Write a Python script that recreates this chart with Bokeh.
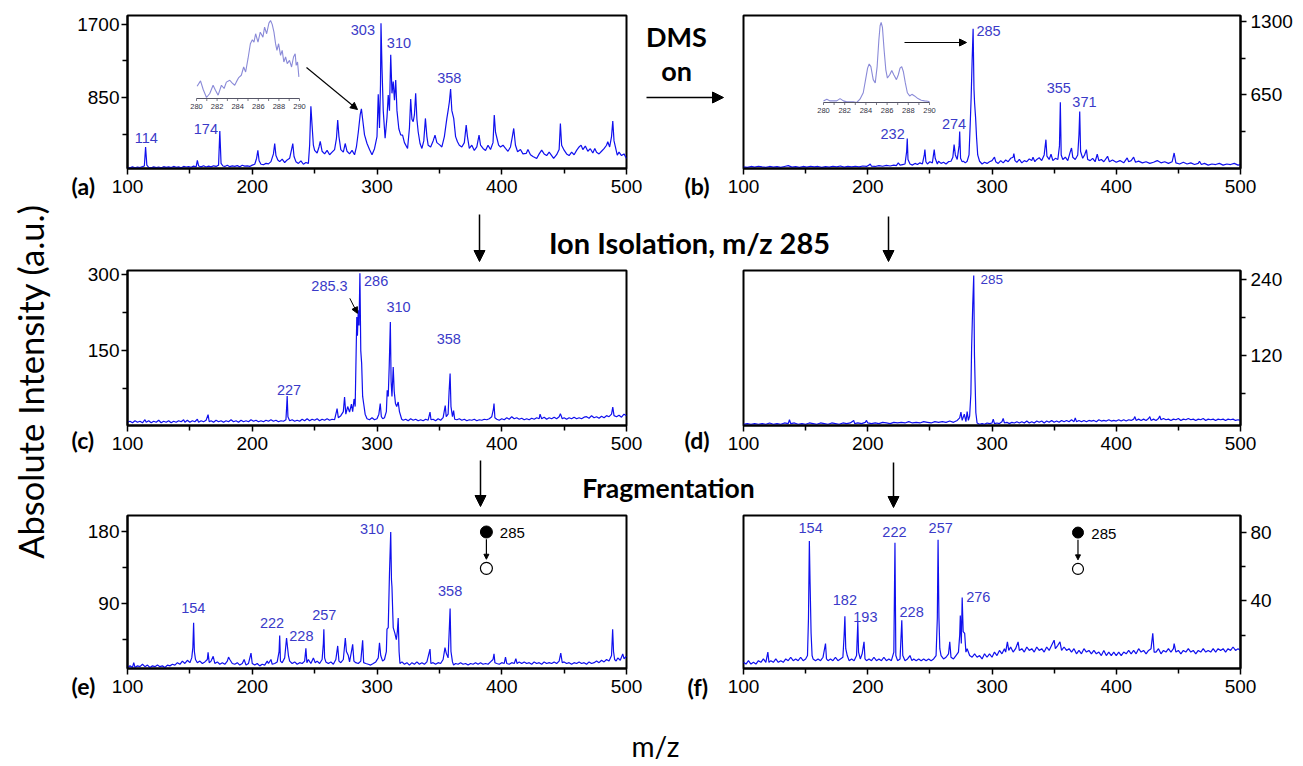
import math
from bokeh.plotting import figure
from bokeh.models import Range1d, FixedTicker, Label, Arrow, NormalHead, Title
from bokeh.layouts import row, column
from bokeh.embed import file_html
from bokeh.resources import INLINE
from bokeh.core.properties import value

# ---------------- data ----------------
x_ticks = [100, 200, 300, 400, 500]
x_minor = [150, 250, 350, 450]

# (a) DMS off, full scan
mz_a = [100,102,104,106,108,110,112,113.5,114.5,115.5,
        117,119,121,123,125,127,129,131,133,135,
        137,139,141,143,145,147,149,151,153,155,
        156,157,159,161,163,165,167,169,171,173,
        174,175,176.5,178,180,182,184,186,188,190,
        192,194,196,198,200,202,203.5,204.5,205.5,207,
        209,211,213,215,217,218,219,220.5,222,224,
        226,228,230,231.5,232.5,233.5,235,237,239,241,
        243,245,246,247,248,249,250,252,253.5,254.5,
        256,258,260,262,264,266,267.5,268.5,269.5,271,
        273,274.5,276,278,280,282,283.5,285,286.5,287.5,
        288.5,290,292,294,296,298,300,301,302,302.8,
        303.2,304,305,306.5,308,309,310,311,312,313,
        314,315,316,317.5,319,320.5,322,324.5,326,327,
        328,329,330,331,332,333,334.5,336,337.5,338.8,
        340,341,343,345,346.5,348,350.5,352,354,356,
        357,358,359,360,361.5,363,364.5,366,368,370,
        371.5,372.5,374,376,378,380,381.8,383,385,387,
        389,391,393,394,395,397.5,399,401,403,405,
        407,408.5,409.6,411,412.7,415,417,419.6,421,423,
        425,428,430,432,434,436,438,441.6,444,446,
        447,448,450,452,454,456,458,460,462,463.6,
        465,467,469,471,473,474.6,476,478,480,482,
        484,485,486.5,488,489,490,492.6,494,496,498,
        500]
int_a = [45,38,50,40,48,42,52,60,280,70,
         45,40,50,42,48,40,52,44,50,42,
         55,45,50,40,55,48,52,45,58,50,
         125,60,50,62,48,58,50,62,55,70,
         465,90,60,55,68,52,62,55,65,50,
         68,58,62,55,70,80,150,240,120,80,
         75,90,85,110,200,320,180,130,110,140,
         100,130,150,250,320,170,110,90,120,80,
         100,90,300,750,520,300,240,210,280,345,
         230,200,240,190,220,250,380,590,400,250,
         220,320,230,200,240,190,280,450,650,720,
         600,420,320,250,190,260,400,890,500,1000,
         1710,1200,700,380,620,880,700,1345,900,1035,
         820,1055,700,490,420,417,330,263,500,834,
         600,572,650,900,600,456,320,263,350,610,
         400,301,280,350,417,330,301,280,400,610,
         700,800,950,700,610,400,340,300,280,330,
         533,400,263,300,240,280,417,300,263,240,
         300,250,330,649,450,301,280,300,263,230,
         280,400,494,300,224,250,200,205,250,190,
         170,147,200,243,200,180,220,147,190,250,
         552,300,243,200,180,220,190,240,280,301,
         250,290,230,260,210,263,220,200,230,260,
         300,340,280,400,580,350,185,220,180,200,
         147]

# (b) DMS on, full scan
mz_b = [100,103,106,109,112,115,118,121,124,127,
        130,133,136,139,142,145,148,151,154,157,
        160,163,166,169,172,175,178,181,184,187,
        190,193,196,199,201,202,203,206,209,212,
        215,218,221,223,224.6,226,228,230,231.3,231.8,
        232.4,234,236,238,240,242,244,245.5,246,246.8,
        248,250,252,253.5,254.3,256,257,259,261,263,
        265,267,268.5,269.5,270.5,272,273.5,274,274.7,276,
        277,278.5,280,281.5,282.5,283.2,284,284.8,285.5,286,
        286.8,287.6,288.5,290,292,294,296,298,300,302,
        303,305,307,309,311,313,315,317,317.6,318.5,
        320,322,324,326,328,330,332,333,334.5,336,
        338,340,342,343.4,344.2,346,347.5,349,351,353,
        354.3,355,355.7,357,359,361,362.8,364,365,367,
        369,370,370.6,371.3,373,374.5,376,377,379,381,
        383,384.7,386,388,390,393,394.5,397,400,403,
        406,408.8,410,412,414,415.5,418,421,424,427,
        430,433,436,439,442,445,446.6,448,451,454,
        457,460,463,466,467,468.5,471,474,477,480,
        483,486,489,492,495,498,500]
int_b = [15,10,18,12,20,14,10,18,12,16,
         10,18,25,12,16,10,18,12,20,14,
         18,10,16,12,20,15,22,12,18,14,
         20,15,22,18,30,40,20,18,25,20,
         28,22,30,25,50,30,35,40,150,265,
         80,40,30,45,35,50,40,120,167,60,
         40,60,50,167,90,40,64,45,55,40,
         60,64,100,211,120,80,200,328,90,60,
         64,50,64,120,400,621,950,1236,700,577,
         450,269,120,64,40,55,45,60,70,100,
         60,45,70,50,75,60,90,100,132,70,
         55,80,50,70,60,85,70,100,60,80,
         95,70,120,255,110,80,126,70,90,80,
         200,585,120,80,100,70,140,181,100,80,
         120,300,503,150,90,120,167,80,70,90,
         60,126,70,80,60,108,60,75,55,70,
         50,94,60,70,100,55,65,50,60,45,
         55,70,50,60,45,60,137,50,40,55,
         40,50,35,45,64,35,45,30,40,35,
         45,30,40,35,45,30,35]

# (c) DMS off, isolation of m/z 285
mz_c = [100,102,104,106,108,110,112,114,115,117,
        119,121,123,125,127,129,131,133,135,137,
        139,141,143,145,146,148,150,152,154,156,
        157,159,161,163,164.6,165.5,167,169,171,173,
        175,177,179,181,183,185,187,189,191,193,
        195,197,199,201,203,205,207,209,211,213,
        215,217,219,221,223,225,227,227.6,228,228.6,
        230,232,234,236,238,240,242,244,246,248,
        250,252,254,256,258,260,262,264,266,267.5,
        268,269,271,273,274,275,276.5,278,279.5,280.5,
        281.6,282.5,283.3,283.8,284.3,285,285.6,286.3,287,287.7,
        288.5,289.3,290.5,292,294,296,298,300,301.5,302.6,
        303.5,304.6,306,307.5,308.2,309,309.8,310.7,311.3,312,
        313,313.8,314.8,315.8,317,318,319.8,321,323,325,
        327,329,331,333,335,337,339,341,342.5,343.3,
        345,347,349,351,353,354.7,355.5,357,357.8,358.6,
        359.3,360.5,361.4,362.3,364,366,368,370,372,374,
        376,378,380,382,384,386,388,390,392,393.3,
        393.8,394.5,396,398,400,402,404,406,408,410,
        412,414,416,418,420,422,424,426,428,430,
        430.7,432,434,436,438,440,442,444,446,447,
        448.5,450,452,454,456,458,460,462,464,466,
        468,470,472,474,476,478,480,482,484,486,
        488,489,490,492,494,496,498,500]
int_c = [9,11,8,12,9,11,8,14,9,12,
         8,11,9,13,8,11,9,12,8,11,
         9,12,10,14,9,13,9,12,10,15,
         9,12,10,13,24,10,12,9,13,10,
         12,9,12,10,14,10,12,9,13,10,
         12,10,14,11,13,10,12,10,13,11,
         14,11,13,10,12,11,14,40,61,20,
         12,14,11,13,11,15,12,16,12,15,
         13,16,12,15,13,16,13,15,14,30,
         36,18,22,30,59,25,40,29,45,30,
         55,40,150,217,180,230,200,303,150,125,
         60,46,25,16,14,18,14,16,25,46,
         20,16,18,30,72,60,120,207,90,60,
         118,70,46,40,49,30,15,13,15,12,
         16,13,15,12,14,12,15,13,29,14,
         15,12,16,13,18,42,20,25,70,105,
         40,20,32,15,14,16,13,15,12,14,
         13,15,12,14,13,15,14,16,20,35,
         46,18,15,13,16,14,18,15,20,16,
         18,15,17,14,16,14,17,15,18,16,
         25,16,19,15,18,16,19,16,20,26,
         16,18,15,18,16,19,16,18,16,19,
         20,17,22,18,20,17,21,18,22,20,
         25,39,22,20,23,19,25,22]

# (d) DMS on, isolation of m/z 285
mz_d = [100,103,106,109,112,115,118,121,124,127,
        130,133,136,137,138,141,144,147,150,153,
        156,159,162,165,168,171,174,177,180,183,
        186,188.7,189.5,192,195,198,199,200,203,206,
        209,212,215,218,221,224,227,230,233,236,
        239,242,245,248,251,254,257,260,263,266,
        269,272,274,275,276,277.7,279,280,281,282,
        283,283.6,284.5,285.3,285.9,286.4,287,288,290,292,
        294,296,298,300,301,302,304,306,308,309,
        310,312,314,316,318,320,322,324,326,328,
        330,332,334,336,338,340,342,344,346,348,
        350,352,354,356,358,360,362,364,366,367,
        368,370,372,374,376,378,380,382,384,386,
        388,390,392,394,396,398,400,402,404,406,
        408,410,412,414,415,416,418,420,422,424,
        426,427,428,430,432,434,435,436,438,440,
        442,444,446,448,450,452,454,456,458,460,
        462,464,466,468,470,472,474,476,478,480,
        482,484,486,488,490,492,494,496,498,500]
int_d = [12,13,12,13,12,13,12,14,12,13,
         12,14,13,19,13,14,12,13,12,14,
         13,12,14,13,12,14,13,12,14,13,
         14,18,13,14,13,15,18,14,13,14,
         13,15,14,13,15,14,15,14,16,14,
         15,14,16,15,14,16,15,16,15,17,
         15,18,22,31,18,28,16,32,18,25,
         60,133,200,246,120,78,30,14,12,13,
         12,14,13,14,20,13,14,13,16,21,
         14,15,13,15,14,16,14,16,14,17,
         14,16,14,17,15,17,14,17,15,18,
         15,17,15,18,16,18,16,19,16,22,
         16,18,16,18,16,18,17,18,16,19,
         17,18,17,19,17,18,17,19,17,19,
         17,19,18,20,24,18,20,18,20,18,
         21,24,18,20,18,21,25,19,21,19,
         20,18,20,19,21,18,20,19,21,19,
         20,18,20,19,21,18,20,19,20,18,
         20,19,20,18,20,19,20,18,19,18]

# (e) DMS off, fragmentation of m/z 285
mz_e = [100,102,104,105,106,108,110,112,114,116,
        118,120,122,124,126,128,130,132,134,136,
        138,140,142,144,146,148,150,151.5,152.4,153,
        153.6,154.5,156,158,160,162,164,164.6,165.5,167,
        168.7,170,172,174,176,178,180,181,182,184,
        186,188,190,192,193.5,195,197,199,200,202,
        204,206,208,210,212,213,215,216,218,220,
        221.5,222,222.6,224,226,227.5,228.3,229,230,232,
        234,236,238,240,242,243,243.8,245,247,249,
        250.5,252,254,256,257,257.4,258,259,261,263,
        265,267,268.5,269.5,271,273,274.6,275.5,277,278,
        279.5,280.5,281.5,283,285,287,288.5,289.3,291,293,
        294.9,297,299,301,302,303,304.5,306,307.5,308,
        309,310,311,311.6,312,312.6,313,314.3,315.5,316.3,
        317,317.7,318.4,320,322,324,326,328,330,332,
        334,336,338,340,342.5,343.2,345,347,349,351,
        353,354.5,355.5,357,358,358.6,359.3,360.5,361.4,363,
        365,367,369,371,373,375,377,379,381,383,
        385,387,389,391,393,393.8,394.5,396,398,400,
        402,403,404,406,408,410,411.3,412.3,414,416,
        418,420,422,424,426,428,430,432,434,436,
        438,440,442,444,446,447.3,448.5,450,452,454,
        456,458,460,462,464,466,468,470,472,474,
        476,478,480,482,484,486,488,488.9,489.6,490.5,
        491.7,493,495,497,498,500]
int_e = [10,12,10,16,10,12,11,14,11,13,
         10,12,11,13,11,12,10,13,12,14,
         13,16,14,18,15,19,16,22,35,66,
         30,20,16,18,15,17,20,29,16,18,
         24,15,17,14,16,14,18,23,20,15,
         14,16,13,15,20,13,15,28,15,13,
         15,12,14,13,18,15,20,14,15,17,
         30,50,18,16,22,47,35,25,18,15,
         17,14,16,15,18,34,16,20,15,22,
         16,18,15,20,40,58,22,17,15,17,
         14,20,37,18,16,20,47,30,25,17,
         30,39,18,16,15,18,44,16,15,14,
         13,15,17,22,41,25,18,20,30,58,
         60,128,180,120,111,80,60,53,45,55,
         72,30,15,17,14,16,13,16,14,17,
         14,16,14,17,33,15,16,14,16,15,
         20,35,28,22,60,84,30,17,13,15,
         14,16,14,15,13,15,14,16,14,16,
         14,15,14,17,20,27,16,15,14,16,
         15,23,15,14,16,15,21,15,17,15,
         17,15,16,14,17,15,16,14,17,15,
         16,15,17,15,18,28,16,17,15,16,
         14,16,15,17,15,16,14,17,15,16,
         18,16,19,17,20,18,25,58,30,20,
         18,22,19,27,21,24]

# (f) DMS on, fragmentation of m/z 285
mz_f = [100,102,104,106,108,110,112,114,116,118,
        119.6,120.5,122,124,126,128,130,132,134,136,
        138,140,142,144,146,148,150,151.5,152.3,153,
        153.6,154.4,155.2,156,158,160,162,164,166,166.8,
        168,170,172,174,176,178,180,181,181.6,182.3,
        183.5,185,187,189,191,192,192.6,194,195.5,197,
        197.8,199,201,203,205,207,209,211,213,215,
        217,219,221,221.9,222.6,224,226,227.4,228.2,230,
        232,234,235.5,237,239,241,243,245,247,249,
        251,253,255,256,256.6,257.3,258,259,261,263,
        265,266,267,269,271,273,274,274.5,275.3,276,
        276.8,278,279,280,282,284,286,288,290,292,
        294,296,298,300,302,304,306,308,310,311,
        312.4,313.5,315,317,319,321,322,324,326,328,
        330,332,334,336,338,340,342,344,346,348,
        350,351,353,354.7,356,358,360,362,364,366,
        368,370,372,374,376,378,380,382,384,386,
        388,390,392,394,396,398,400,402,404,406,
        408,410,412,414,416,418,420,422,424,426,
        428,429.4,430.5,432,434,436,438,440,442,444,
        446,446.6,448,450,452,454,456,458,460,462,
        464,466,468,470,472,474,476,478,480,482,
        484,486,488,490,492,494,496,498,500]
int_f = [4,3,5,3,4,3,5,4,6,4,
         10,4,5,4,6,4,5,4,6,5,
         7,5,6,5,7,5,6,8,30,75,
         50,21,8,6,5,6,5,7,15,6,
         5,6,5,7,5,6,7,20,31,12,
         8,5,6,5,8,27.6,10,6,9,16,
         6,5,6,5,7,5,6,5,7,5,
         6,5,10,74,8,5,6,28.6,8,5,
         6,8,5,6,5,6,5,6,5,6,
         5,6,8,30,75.8,30,12,8,6,7,
         9,16,7,6,8,10,20,31.4,15,41.9,
         22,21,10,12,8,7,9,7,8,6,
         9,7,9,7,10,8,11,9,12,10,
         16,11,13,10,12,16,11,12,10,13,
         11,12,10,13,11,12,10,13,11,14,
         17,12,14,16,11,13,11,12,10,12,
         9,11,9,12,10,11,9,11,9,10,
         8,11,8,10,8,10,8,10,8,10,
         9,11,9,11,9,12,10,11,9,11,
         12,21,10,10,12,9,11,10,12,10,
         12,15,10,11,9,11,10,12,10,11,
         9,11,10,12,10,11,10,12,10,12,
         11,12,10,12,11,13,11,12,11]

# insets (m/z 280-290, relative intensity 0-100)
ins_ticks = [280, 281, 282, 283, 284, 285, 286, 287, 288, 289, 290]
ins_tick_labels = ["280", "282", "284", "286", "288", "290"]
ins_a_mz = [280.06,280.39,280.65,280.97,281.29,281.61,281.84,282.1,282.42,282.68,
            282.9,283.23,283.45,283.71,283.87,284.1,284.35,284.58,284.77,285,
            285.23,285.42,285.58,285.74,285.97,286.19,286.45,286.61,286.81,287.03,
            287.19,287.35,287.52,287.68,287.81,287.97,288.16,288.32,288.48,288.65,
            288.81,289.03,289.23,289.42,289.58,289.68,289.81,289.94]
ins_a_val = [15.7,22.6,11.5,1.3,6.4,17,10.6,4.3,17,12.8,
             21,23.4,20,17,21.3,26.8,29.8,40.4,34,51,
             70.2,75.3,72.3,83,72.3,85,78.7,91.5,83,96.6,
             100,95,85,70,61.7,70.2,55.3,61.7,46.8,53.2,
             44.7,48.9,40.4,53.2,57.4,42.5,46.8,27.7]
ins_b_mz = [280,280.31,280.63,280.94,281.25,281.56,281.88,282.19,282.5,282.81,
            283.13,283.44,283.75,283.97,284.16,284.31,284.47,284.69,284.88,285.06,
            285.22,285.34,285.44,285.56,285.72,285.88,286.03,286.25,286.44,286.63,
            286.88,287.06,287.22,287.38,287.53,287.72,287.91,288.13,288.34,288.59,
            288.91,289.22,289.53,289.84,290.0]
ins_b_val = [2.0,4.1,2.0,2.0,2.0,4.9,2.0,0.8,0.8,0.8,
             0,4.1,12.2,28.6,42.9,48.2,44.9,28.6,24.5,44.9,
             77.6,95.9,100,93.9,65.3,40.8,30.6,34.7,40,34.7,
             28.6,34.7,42.9,44.9,38.8,24.5,12.2,8.2,10.2,8.2,
             4.9,2.9,2.0,1.6,0.8]

# peak annotations: text, label centre (m/z, intensity)
lab_a = ["114", "174", "303", "310", "358"]
lab_a_x = [115, 162.8, 288.7, 317.6, 357.9]
lab_a_y = [386, 487, 1634, 1480, 1082]
lab_b = ["285", "232", "274", "355", "371"]
lab_b_x = [297.2, 220, 269.4, 353.7, 374.4]
lab_b_y = [1212, 304, 392, 714, 591]
lab_c = ["285.3", "286", "310", "358", "227"]
lab_c_x = [261.9, 299.3, 317.3, 357.5, 229.5]
lab_c_y = [278, 288.8, 237, 173, 72]
lab_d = ["285"]
lab_d_x = [299.8]
lab_d_y = [240]
lab_e = ["154", "222", "228", "257", "310", "358"]
lab_e_x = [152.7, 215.9, 239.4, 257.7, 296, 358.6]
lab_e_y = [84.6, 66, 49.3, 75.5, 184, 106]
lab_f = ["154", "222", "257", "182", "193", "228", "276"]
lab_f_x = [154, 221.5, 258.7, 181.6, 198.1, 235.3, 289]
lab_f_y = [82.9, 80.6, 82.9, 40.4, 30.5, 33.3, 42.3]

# precursor -> product symbol (m/z position, intensity of filled / open circle)
sym_e = [387.7, 180, 134.4]
sym_f = [369.2, 80, 58.7]
precursor = "285"

# ---------------- style ----------------
SPEC = "#1010ee"
PEAK = "#3a3ac8"
INSET = "#8a8ad8"
NUM_FONT = "Liberation Sans"
HEAD_FONT = "Lato"
TICK_SIZE = "19px"
PEAK_SIZE = "14.5px"
LETTER_SIZE = 23
LETTER_H = 1.2 * LETTER_SIZE
AXIS_H = 28.0   # height of the bottom axis panel


def add_label(p, x, y, text, size, bold=False, font=HEAD_FONT, angle=0.0, rng="default", color="black"):
    p.add_layout(Label(x=x, y=y, text=text, x_range_name=rng, y_range_name=rng,
                       text_align="center", text_baseline="middle", text_font=font,
                       text_font_size=size, text_font_style="bold" if bold else "normal",
                       text_color=color, angle=angle))


def add_arrow(p, xs, ys, xe, ye, size=10, width=1.5, rng="default"):
    p.add_layout(Arrow(end=NormalHead(size=size, fill_color="black", line_color="black", line_width=1),
                       x_start=xs, y_start=ys, x_end=xe, y_end=ye, line_width=width,
                       line_color="black", x_range_name=rng, y_range_name=rng))


def canvas(x0, x1, y0, y1, T=0, B=0):
    # blank figure whose data coordinates are page pixels (frame = area inside T/B borders)
    p = figure(width=x1 - x0, height=y1 - y0, x_range=Range1d(x0, x1),
               y_range=Range1d(y1 - B, y0 + T),
               toolbar_location=None, output_backend="svg", min_border_left=0,
               min_border_right=0, min_border_top=T, min_border_bottom=B,
               x_axis_location=None, y_axis_location=None)
    p.xgrid.visible = False
    p.ygrid.visible = False
    p.outline_line_color = None
    return p, (x0, x1, y0 + T, y1 - B)


def panel(x0, y0, w, h, L, R, T, B, yr, yt, ym, side):
    p = figure(width=w, height=h, x_range=Range1d(100, 500), y_range=Range1d(*yr),
               y_axis_location=side, toolbar_location=None, output_backend="svg",
               min_border_left=L, min_border_right=R, min_border_top=T, min_border_bottom=B)
    p.xgrid.visible = False
    p.ygrid.visible = False
    p.outline_line_color = "black"
    p.outline_line_width = 2
    p.xaxis.ticker = FixedTicker(ticks=x_ticks, minor_ticks=x_minor)
    p.yaxis.ticker = FixedTicker(ticks=yt, minor_ticks=ym)
    for ax in p.xaxis + p.yaxis:
        ax.axis_line_width = 2
        ax.axis_line_color = "black"
        ax.major_tick_line_width = 1.5
        ax.minor_tick_line_width = 1.5
        ax.major_tick_in = 0
        ax.minor_tick_in = 0
        ax.major_tick_out = 6
        ax.minor_tick_out = 5
        ax.major_label_text_font = NUM_FONT
        ax.major_label_text_font_size = TICK_SIZE
        ax.major_label_text_color = "black"
    p.xaxis.major_label_standoff = 5
    p.yaxis.major_label_standoff = 2 if side == "left" else 4
    frame = (x0 + L, x0 + w - R, y0 + T, y0 + h - B)
    p.extra_x_ranges["px"] = Range1d(frame[0], frame[1])
    p.extra_y_ranges["px"] = Range1d(frame[3], frame[2])
    return p, frame


def letter(p, frame, text, left_px, centre_px, below_axis, B):
    # panel letter drawn as a title in the bottom side panel
    top_ref = frame[3] + (AXIS_H if below_axis else 0.0)
    standoff = 2.0 * ((centre_px - LETTER_H / 2) - top_ref)
    if not below_axis:
        standoff = min(standoff, B - 4.0 - LETTER_H)
    p.add_layout(Title(text=text, align="left", vertical_align="top",
                       offset=left_px - frame[0], standoff=standoff,
                       text_font=HEAD_FONT, text_font_size="%dpx" % LETTER_SIZE,
                       text_font_style="bold", text_color="black"), "below")


def spectrum(p, mz, inten, lx, ly, lt, size=PEAK_SIZE):
    p.line(mz, inten, color=SPEC, line_width=1.2)
    p.text(x=lx, y=ly, text=lt, text_font=value(NUM_FONT), text_font_size=value(size),
           text_color=PEAK, text_align="center", text_baseline="middle")


def inset(p, frame, name, mz, val, px_x0, px_x1, px_base, px_top):
    fx0, fx1, fy0, fy1 = frame
    lo, hi = ins_ticks[0], ins_ticks[-1]

    def dx(P):
        return lo + (P - px_x0) * (hi - lo) / (px_x1 - px_x0)

    def dy(P):
        return (P - px_base) * 100.0 / (px_top - px_base)

    p.extra_x_ranges[name] = Range1d(dx(fx0), dx(fx1))
    p.extra_y_ranges[name] = Range1d(dy(fy1), dy(fy0))
    kw = dict(x_range_name=name, y_range_name=name)
    unit = 100.0 / (px_base - px_top)  # value units per pixel
    p.line(mz, val, color=INSET, line_width=1.1, **kw)
    p.line([lo, hi], [0, 0], color="#555566", line_width=1, **kw)
    p.segment(x0=ins_ticks, y0=[0] * len(ins_ticks), x1=ins_ticks, y1=[-2.5 * unit] * len(ins_ticks),
              color="#555566", line_width=0.8, **kw)
    p.text(x=[float(t) for t in ins_tick_labels], y=[-8 * unit] * len(ins_tick_labels),
           text=ins_tick_labels, text_font=value(NUM_FONT), text_font_size=value("7.5px"),
           text_color="#333344", text_align="center", text_baseline="middle", **kw)


def symbol(p, sym, size):
    x, yf, yo = sym
    span = yf - yo
    p.scatter([x], [yf], size=size, marker="circle", fill_color="black", line_color="black")
    p.scatter([x], [yo], size=size, marker="circle", fill_color="white", line_color="black",
              line_width=1.2)
    p.add_layout(Arrow(end=NormalHead(size=5, fill_color="black", line_color="black"),
                       x_start=x, y_start=yf - 0.2 * span, x_end=x, y_end=yo + 0.25 * span,
                       line_width=1.2, line_color="black"))
    p.text(x=[x + 20.8], y=[yf - 0.04 * span], text=[precursor], text_font=value(NUM_FONT),
           text_font_size=value("15px"), text_color="black", text_align="center",
           text_baseline="middle")


# ---------------- layout geometry (page pixels) ----------------
XL, XM, XR, W = 60, 644, 724, 1303
ROW1, ROW2, ROW3 = 0, 262, 508
H1, H2, H3 = 206, 196, 207
T1, B1 = 15, 38
T2, B2 = 8, 33
T3, B3 = 7, 47
LEFT_LETTER_X = 71

# Row 1
fa, fra = panel(XL, ROW1, XM - XL, H1, 67, 18, T1, B1, (31, 1800), [850, 1700], [425, 1275], "left")
spectrum(fa, mz_a, int_a, lab_a_x, lab_a_y, lab_a)
inset(fa, fra, "ia", ins_a_mz, ins_a_val, 196, 299, 98, 20)
add_arrow(fa, 306, 67, 357, 109, size=7, width=1.1, rng="px")
letter(fa, fra, "(a)", LEFT_LETTER_X, 186, True, B1)

m1, frm1 = canvas(XM, XR, ROW1, ROW1 + H1, T1, B1)
add_label(m1, 676, 36, "DMS", "27px", bold=True)
add_label(m1, 676, 70, "on", "27px", bold=True)
add_arrow(m1, 646, 97, 723, 97, size=11, width=1.5)
letter(m1, frm1, "(b)", 684, 186, False, B1)

fb, frb = panel(XR, ROW1, W - XR, H1, 19, 63, T1, B1, (0, 1353), [650, 1300], [325, 975], "right")
spectrum(fb, mz_b, int_b, lab_b_x, lab_b_y, lab_b)
inset(fb, frb, "ib", ins_b_mz, ins_b_val, 823, 929, 102, 22)
add_arrow(fb, 904, 42, 966, 42, size=7, width=1.1, rng="px")

# gap 1
g1, _ = canvas(XL, W, 206, 262)
add_label(g1, 689, 242, "Ion Isolation, m/z 285", "29px", bold=True)
add_arrow(g1, 479, 214, 479, 261, size=11, width=1.5)
add_arrow(g1, 888, 216, 888, 261, size=11, width=1.5)

# Row 2
fc, frc = panel(XL, ROW2, XM - XL, H2, 67, 18, T2, B2, (2.6, 308.6), [150, 300], [75, 225], "left")
spectrum(fc, mz_c, int_c, lab_c_x, lab_c_y, lab_c)
fc.add_layout(Arrow(end=NormalHead(size=6, fill_color="black", line_color="black"),
                    x_start=278.2, y_start=253.7, x_end=284.3, y_end=224, line_width=1,
                    line_color="black"))
letter(fc, frc, "(c)", LEFT_LETTER_X, 440, True, B2)

m2, frm2 = canvas(XM, XR, ROW2, ROW2 + H2, T2, B2)
letter(m2, frm2, "(d)", 684, 440, False, B2)

fd, frd = panel(XR, ROW2, W - XR, H2, 19, 63, T2, B2, (10, 254), [120, 240], [60, 180], "right")
spectrum(fd, mz_d, int_d, lab_d_x, lab_d_y, lab_d, size="13.5px")

# gap 2
g2, _ = canvas(XL, W, 458, 508)
add_label(g2, 668, 487, "Fragmentation", "26.5px", bold=True)
add_arrow(g2, 480, 460, 480, 506, size=11, width=1.5)
add_arrow(g2, 893, 462, 893, 507, size=11, width=1.5)

# Row 3
fe, fre = panel(XL, ROW3, XM - XL, H3, 67, 18, T3, B3, (8.7, 200.7), [90, 180], [45, 135], "left")
spectrum(fe, mz_e, int_e, lab_e_x, lab_e_y, lab_e)
symbol(fe, sym_e, 12)
letter(fe, fre, "(e)", LEFT_LETTER_X, 686, True, B3)

m3, frm3 = canvas(XM, XR, ROW3, ROW3 + H3, T3, B3)
letter(m3, frm3, "(f)", 687, 686, False, B3)

ff, frf = panel(XR, ROW3, W - XR, H3, 19, 63, T3, B3, (0.4, 90), [40, 80], [20, 60], "right")
spectrum(ff, mz_f, int_f, lab_f_x, lab_f_y, lab_f)
symbol(ff, sym_f, 11)

# axis titles
ylab, _ = canvas(0, XL, 0, 766)
add_label(ylab, 30, 381, "Absolute Intensity (a.u.)", "34.5px", angle=math.pi / 2)
mzf, _ = canvas(XL, W, 715, 766)
add_label(mzf, 655, 745, "m/z", "28px")

layout = row(ylab, column(row(fa, m1, fb), g1, row(fc, m2, fd), g2, row(fe, m3, ff), mzf))

open("out.html", "w").write(file_html(layout, INLINE))
